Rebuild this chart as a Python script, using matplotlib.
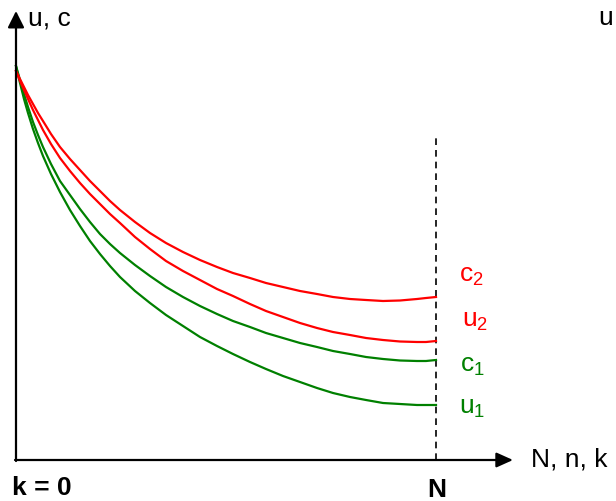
import matplotlib.pyplot as plt

plt.rcParams['font.family'] = ['Liberation Sans', 'DejaVu Sans']
plt.rcParams['mathtext.default'] = 'regular'

# k positions (N = 420) and curve values
k = [0, 4, 8, 12, 17, 22, 27, 35, 44, 54, 64, 74, 84, 94, 104, 119, 134, 150,
     167, 184, 201, 217, 234, 250, 267, 284, 301, 317, 334, 350, 367, 384, 401, 410, 420]
u1 = [394, 377, 361, 347, 331, 317, 304, 286, 268, 250, 234, 219, 206, 194, 183, 169, 157, 145,
      134, 123, 114, 106, 98, 91, 84, 78, 72, 67, 63, 60, 57, 56, 55, 55, 55]
c1 = [394, 380, 366, 353, 338, 325, 313, 296, 279, 265, 251, 238, 226, 216, 207, 195, 184, 173,
      163, 154, 146, 139, 133, 127, 122, 117, 113, 109, 106, 103, 101, 99.5, 99, 99, 100]
u2 = [389, 379, 370, 361, 350, 340, 330, 316, 302, 289, 277, 266, 256, 246, 237, 223, 211, 199,
      189, 180, 171, 164, 156, 149, 143, 137, 132, 128, 125, 122, 120, 118.5, 118, 118, 119]
c2 = [389, 381, 373, 365, 356, 347, 339, 326, 313, 301, 290, 279, 269, 259, 250, 238, 227, 217,
      208, 200, 193, 187, 182, 177, 173, 169, 166, 163, 161, 160, 159, 159.5, 161, 162, 163]

N = 420
labels = ['c$_2$', 'u$_2$', 'c$_1$', 'u$_1$']
label_x = [443, 446, 444, 443]
label_y = [178, 133, 88, 46]
label_colors = ['red', 'red', 'green', 'green']

fig = plt.figure(figsize=(6.16, 5.01), dpi=100)
ax = fig.add_axes([0, 0, 1, 1])
ax.set_xlim(-16, 600)
ax.set_ylim(-41, 460)
ax.axis('off')

# axes with arrows
ax.annotate('', xy=(0, 449), xytext=(0, -1),
            arrowprops=dict(arrowstyle='-|>,head_length=1.0,head_width=0.5',
                            mutation_scale=10, lw=1.6, color='black',
                            shrinkA=0, shrinkB=0))
ax.annotate('', xy=(497, 0), xytext=(-1, 0),
            arrowprops=dict(arrowstyle='-|>,head_length=1.0,head_width=0.45',
                            mutation_scale=10, lw=1.6, color='black',
                            shrinkA=0, shrinkB=0))

# dashed line at N
ax.plot([N, N], [0, 325], color='black', lw=1.2, linestyle=(0, (4, 3)))

ax.plot(k, u1, color='green', lw=1.6)
ax.plot(k, c1, color='green', lw=1.6)
ax.plot(k, u2, color='red', lw=1.6)
ax.plot(k, c2, color='red', lw=1.6)

for lab, x, y, col in zip(labels, label_x, label_y, label_colors):
    ax.text(x, y, lab, color=col, fontsize=19, ha='left', va='baseline')

ax.text(12, 435, 'u, c', fontsize=19, ha='left', va='baseline')
ax.text(582, 435, 'u', fontsize=19, ha='left', va='baseline')
ax.text(515, -6, 'N, n, k', fontsize=19, ha='left', va='baseline')
ax.text(-4, -35, 'k = 0', fontsize=19, fontweight='bold', ha='left', va='baseline')
ax.text(N + 1, -37, 'N', fontsize=19, fontweight='bold', ha='center', va='baseline')

fig.savefig('out.png', dpi=100)
